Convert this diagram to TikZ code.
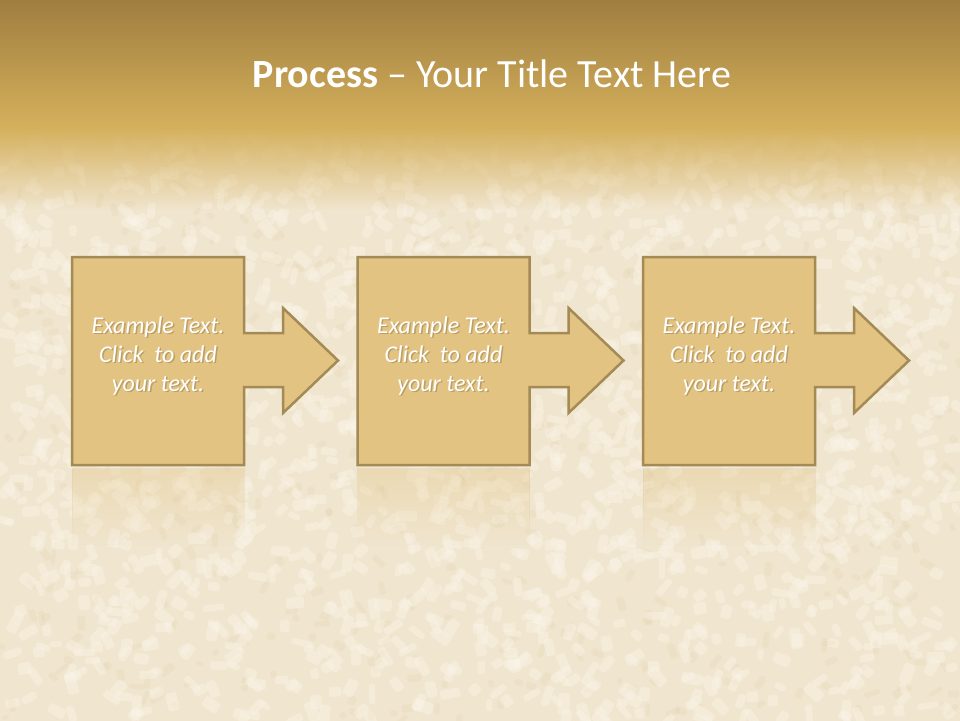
\documentclass[tikz,border=0pt]{standalone}
\usepackage{fontspec}
\setmainfont{Carlito}
\usetikzlibrary{fadings}
\definecolor{headtop}{HTML}{9D7C3E}
\definecolor{headbot}{HTML}{D5B05C}
\definecolor{sugarbg}{HTML}{F0E5CE}
\definecolor{grainlight}{HTML}{FBF6EA}
\definecolor{graindark}{HTML}{E4D5B6}
\definecolor{boxfill}{HTML}{E2C381}
\definecolor{boxline}{HTML}{A48A55}
\definecolor{textshade}{HTML}{5E4A28}
\tikzfading[name=fadedown, top color=transparent!0, bottom color=transparent!100]

\tikzset{
  grain/.style={fill=grainlight, opacity=0.4},
  graindim/.style={fill=graindark, opacity=0.3},
  stepshape/.style={fill=boxfill, draw=boxline, line width=2.5pt, line join=miter},
  stepmirror/.style={fill=boxfill, draw=boxline!50, line width=1pt, opacity=0.35, path fading=fadedown},
  steptext/.style={text=white, font=\fontsize{24}{29}\selectfont\itshape, align=center},
  titletext/.style={text=white, font=\fontsize{40}{48}\selectfont}
}

\begin{document}
\begin{tikzpicture}[x=1pt,y=-1pt]
\useasboundingbox (0,0) rectangle (960,720);
% background and sugar grains
\fill[sugarbg] (-5,-5) rectangle (965,725);
\pgfmathsetseed{11}
\foreach \k in {1,...,500}{
  \pgfmathsetmacro\gx{rnd*960}
  \pgfmathsetmacro\gy{130+rnd*590}
  \pgfmathsetmacro\gw{3+rnd*5}
  \pgfmathsetmacro\gh{2+rnd*2}
  \pgfmathsetmacro\ga{rnd*180}
  \fill[graindim, rounded corners=1.5pt, rotate around={\ga:(\gx,\gy)}] (\gx-\gw,\gy-\gh) rectangle (\gx+\gw,\gy+\gh);
}
\foreach \k in {1,...,1700}{
  \pgfmathsetmacro\gx{rnd*960}
  \pgfmathsetmacro\gy{130+rnd*590}
  \pgfmathsetmacro\gw{5+rnd*6}
  \pgfmathsetmacro\gh{3+rnd*3}
  \pgfmathsetmacro\ga{rnd*180}
  \fill[grain, rounded corners=2.5pt, rotate around={\ga:(\gx,\gy)}] (\gx-\gw,\gy-\gh) rectangle (\gx+\gw,\gy+\gh);
}
% header band
\shade[top color=headtop, bottom color=headbot] (-5,-5) rectangle (965,128);
\fill[headbot, path fading=fadedown] (-10,127) rectangle (970,210);
\node[titletext] (title) at (492,74) {\textbf{Process} -- Your Title Text Here};
% process steps
\foreach \dx [count=\i] in {0,285.5,571}{
  \path[stepmirror] (72+\dx,469) rectangle (244+\dx,545);
  \draw[stepshape] (72+\dx,257) -- (244+\dx,257) -- (244+\dx,333) -- (283+\dx,333)
    -- (283+\dx,308) -- (338+\dx,360.5) -- (283+\dx,413) -- (283+\dx,387)
    -- (244+\dx,387) -- (244+\dx,465) -- (72+\dx,465) -- cycle;
  \node[steptext, text=textshade, opacity=0.3] (shade\i) at (159.5+\dx,357.5) {Example Text.\\Click~ to add\\your text.};
  \node[steptext] (step\i) at (158+\dx,356) {Example Text.\\Click~ to add\\your text.};
}
\end{tikzpicture}
\end{document}
